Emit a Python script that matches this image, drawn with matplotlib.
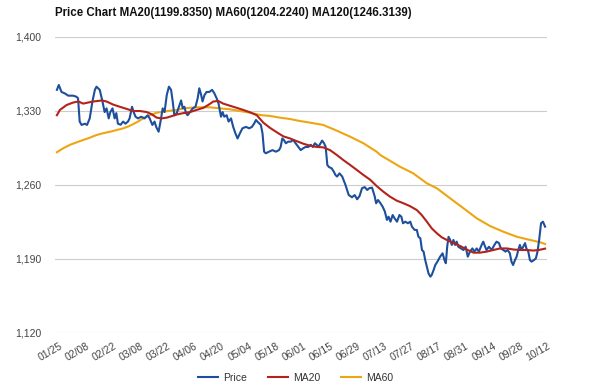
import matplotlib
matplotlib.use("Agg")
import matplotlib.pyplot as plt
import matplotlib.transforms as mtransforms

# trading-day index (0 = 01/25) and closing price
price_day = [0, 0.7, 1.7, 2.9, 4.2, 6.0, 7.2, 7.8, 8.4, 9.1, 10.3, 11.1, 12.1, 13.1,
             14.0, 14.6, 15.8, 16.8, 17.6, 18.3, 19.1, 19.7, 20.5, 21.3, 21.9, 22.5,
             23.5, 24.4, 25.3, 26.2, 26.8, 27.7, 28.3, 29.0, 29.9, 31.1, 32.3, 33.5,
             34.2, 35.2, 36.0, 36.6, 37.5, 38.2, 39.0, 39.7, 40.5, 41.3, 42.1, 42.7,
             43.3, 44.2, 45.2, 45.8, 46.4, 47.0, 47.6, 48.2, 49.1, 50.1, 51.1, 51.9,
             52.5, 53.2, 53.7, 54.4, 55.2, 56.2, 57.2, 58.0, 58.9, 59.6, 60.5, 61.1,
             61.7, 62.6, 63.3, 64.2, 65.0, 65.8, 66.6, 67.5, 68.4, 69.7, 70.9, 71.9,
             72.7, 73.4, 73.9, 75.2, 75.8, 76.4, 77.0, 78.2, 79.5, 80.7, 81.9, 82.5,
             83.1, 83.7, 84.4, 85.3, 86.2, 87.1, 88.0, 89.0, 89.9, 90.8, 91.7, 92.7,
             93.6, 94.4, 95.1, 95.8, 96.4, 97.2, 97.8, 98.5, 99.1, 99.7, 100.3, 101.3,
             102.1, 102.7, 103.3, 104.2, 105.2, 106.4, 107.6, 108.8, 109.8, 110.7,
             111.6, 112.5, 113.5, 114.4, 115.2, 116.2, 117.2, 117.7, 118.4, 119.3,
             120.1, 120.9, 121.7, 122.3, 123.0, 123.8, 124.5, 125.4, 126.3, 127.0,
             127.6, 128.5, 129.4, 130.3, 130.9, 131.9, 132.7, 133.3, 134.0, 134.6,
             135.2, 135.8, 136.4, 137.0, 137.7, 138.2, 138.9, 139.5, 140.3, 141.3,
             142.2, 142.9, 143.4, 143.9, 144.4, 145.0, 145.6, 146.2, 146.8, 147.4,
             148.0, 149.0, 149.9, 150.7, 151.5, 152.3, 153.2, 153.9, 154.8, 155.6,
             156.6, 157.2, 157.9, 158.4, 159.3, 160.3, 161.3, 162.1, 163.0, 163.7,
             164.6, 165.4, 166.2, 167.0, 167.6, 168.2, 168.9, 169.5, 170.1, 170.7,
             171.3, 171.9, 172.6, 173.1, 173.8, 174.4, 175.0, 175.9, 176.6, 177.2,
             177.8, 178.5, 179.2, 180]
price = [1350, 1354.6, 1348, 1346.7, 1344.5, 1344.5, 1343.5, 1342, 1320, 1316.8, 1318,
         1316.8, 1323, 1339, 1350, 1353, 1350, 1339, 1329, 1332.5, 1323, 1329, 1332.5,
         1323, 1328, 1318, 1317, 1320, 1318, 1320, 1323, 1334, 1329, 1324.6, 1323,
         1324.6, 1323, 1326, 1323, 1316.8, 1320, 1315, 1310.4, 1320, 1332.5, 1329,
         1345, 1353, 1350, 1339, 1326, 1328, 1335.7, 1340, 1332.5, 1334, 1328, 1326,
         1329, 1332.5, 1334, 1342, 1351.5, 1345, 1339, 1345, 1348, 1348, 1350, 1347,
         1342, 1337, 1324.6, 1329, 1324.6, 1326, 1320, 1323, 1315, 1309, 1304, 1309,
         1313.6, 1315, 1313.6, 1315, 1318, 1321.5, 1320, 1316.8, 1309, 1291.5, 1290,
         1291.5, 1293, 1291.5, 1293, 1296, 1304, 1302.6, 1299.5, 1301, 1301, 1302.6,
         1299.5, 1296, 1293, 1294.7, 1296, 1296, 1298, 1296, 1299.5, 1298, 1296,
         1299.5, 1302, 1299.5, 1296, 1279, 1277, 1275.8, 1272.6, 1269.5, 1268, 1271,
         1268, 1260, 1250.5, 1248.4, 1250.5, 1246.5, 1249.6, 1257, 1258, 1255.3, 1257,
         1257.5, 1249, 1242.7, 1245.8, 1242.7, 1239.5, 1235, 1227, 1230, 1225.3,
         1231.6, 1228.5, 1225.3, 1231.6, 1230, 1223.8, 1225.3, 1223.8, 1225.3, 1220.6,
         1217.5, 1217.5, 1211, 1209.6, 1198.5, 1197, 1189, 1182.8, 1176.5, 1173.3,
         1174.9, 1179.6, 1184.3, 1187.5, 1192.2, 1195.4, 1189, 1186, 1201.6, 1211,
         1208, 1203.3, 1208, 1203.3, 1206.4, 1201.6, 1200, 1198.5, 1201.6, 1192.2,
         1197, 1200, 1197, 1200, 1197, 1203.3, 1206.4, 1201.6, 1198.5, 1201.6, 1198.5,
         1203.3, 1206.4, 1205, 1200, 1198.5, 1197, 1198.5, 1195.4, 1187.5, 1184.3,
         1189, 1192.2, 1198.5, 1203.3, 1198.5, 1201.6, 1205, 1200, 1197, 1189, 1187.5,
         1189, 1190.6, 1197, 1208, 1223.8, 1225.3, 1220.6]

ma20_day = [0, 1.1, 3.6, 6.0, 7.9, 9.7, 11.5, 13.4, 15.2, 16.5, 18.3, 20.8, 23.2, 25.7,
            28.1, 30.6, 33.1, 34.9, 36.8, 38.6, 40.5, 42.9, 44.7, 46.6, 49.1, 51.5,
            54.0, 55.8, 57.7, 59.5, 61.3, 63.8, 66.3, 68.7, 71.2, 73.7, 76.1, 78.6,
            81.0, 83.5, 86.0, 88.4, 90.9, 93.3, 95.8, 98.2, 100.7, 103.2, 105.6, 108.1,
            110.6, 113.0, 115.5, 117.9, 120.4, 122.8, 125.3, 127.8, 130.2, 132.7, 134.5,
            136.4, 138.2, 140.1, 141.9, 143.8, 146.2, 148.7, 151.1, 153.6, 156.0, 158.5,
            160.9, 163.4, 165.9, 168.3, 170.8, 173.3, 175.7, 177.6, 180]
ma20 = [1326, 1331, 1335.7, 1338, 1339, 1337, 1338, 1339, 1339.5, 1340, 1339, 1336,
        1334, 1332, 1330, 1330, 1329, 1327, 1323.7, 1323, 1323.7, 1325.6, 1327, 1328,
        1329, 1331, 1333, 1335.7, 1339, 1339.5, 1337, 1335, 1333, 1331, 1328.8, 1326,
        1319, 1314, 1310, 1306, 1304, 1301.5, 1299, 1297.2, 1296, 1295.6, 1293, 1288.4,
        1283.6, 1279, 1274.2, 1269.5, 1265, 1259, 1253.6, 1249, 1245.2, 1242.7, 1240,
        1236.3, 1231.6, 1225.3, 1219, 1214.3, 1210.5, 1208, 1205, 1202.3, 1199, 1196,
        1196, 1197, 1198.5, 1200, 1200, 1199, 1198.5, 1198.5, 1198, 1198.5, 1199.8]

ma60_day = [0, 2.3, 4.8, 7.3, 9.7, 12.2, 14.6, 17.1, 19.6, 22.0, 24.5, 26.9, 29.4, 31.8,
            34.3, 36.8, 39.2, 41.7, 44.2, 46.6, 51.5, 56.4, 60.1, 63.8, 67.5, 71.2,
            74.9, 78.6, 82.3, 86.0, 89.0, 93.3, 98.2, 103.2, 108.1, 113.0, 117.9, 119.2,
            126.5, 131.4, 136.4, 140.1, 145.0, 149.9, 154.8, 159.7, 164.6, 169.6, 174.5,
            178.2, 180]
ma60 = [1291, 1294.7, 1298, 1300.4, 1302.6, 1304.8, 1307.3, 1309, 1310.4, 1312, 1313.6,
        1316, 1319.3, 1323, 1326, 1328.4, 1329.3, 1330.3, 1331, 1332.5, 1333.5, 1333.5,
        1332.5, 1331.6, 1330, 1328.4, 1326.2, 1325.3, 1323.7, 1322.4, 1320.8, 1319,
        1316.8, 1311.4, 1305.7, 1299.5, 1291.5, 1288.4, 1277.3, 1271, 1261.6, 1256.9,
        1247.4, 1238, 1228.5, 1221.2, 1215.8, 1211, 1208, 1205.8, 1204.2]

tick_days = list(range(0, 181, 10))
tick_labels = ["01/25", "02/08", "02/22", "03/08", "03/22", "04/06", "04/20", "05/04",
               "05/18", "06/01", "06/15", "06/29", "07/13", "07/27", "08/17", "08/31",
               "09/14", "09/28", "10/12"]
y_ticks = [1120, 1190, 1260, 1330, 1400]

plt.rcParams["font.family"] = ["Liberation Sans", "DejaVu Sans"]

fig = plt.figure(figsize=(6, 3.88), dpi=100)
ax = fig.add_axes([55 / 600, 1 - 333 / 388, 492 / 600, 296 / 388])

ax.plot(price_day, price, color="#1d4f9c", lw=1.5, label="Price", zorder=3)
ax.plot(ma20_day, ma20, color="#b3231b", lw=1.5, label="MA20", zorder=4)
ax.plot(ma60_day, ma60, color="#eda512", lw=1.5, label="MA60", zorder=2)

ax.set_xlim(-0.7, 180.7)
ax.set_ylim(1120, 1400)
ax.set_yticks(y_ticks)
ax.set_yticklabels([f"{v:,}" for v in y_ticks])
ax.yaxis.grid(True, color="#cccccc", lw=0.8)
ax.set_axisbelow(True)
for s in ax.spines.values():
    s.set_visible(False)
ax.tick_params(axis="y", length=0, pad=10, labelsize=7.5, labelcolor="#444444")

ax.set_xticks(tick_days)
ax.set_xticklabels(tick_labels, rotation=30, ha="right", rotation_mode="anchor")
ax.tick_params(axis="x", length=0, pad=6, labelsize=7.5, labelcolor="#444444")
offset = mtransforms.ScaledTranslation(2 / 100, 0, fig.dpi_scale_trans)
for lab in ax.get_xticklabels():
    lab.set_transform(lab.get_transform() + offset)

fig.text(55 / 600, 1 - 13 / 388, "Price Chart MA20(1199.8350) MA60(1204.2240) MA120(1246.3139)",
         fontsize=8.3, fontweight="bold", color="#111111", va="center", ha="left")

fig.legend(loc="center", bbox_to_anchor=(0.493, 1 - 378 / 388), ncol=3, frameon=False,
           fontsize=7.5, handlelength=1.9, columnspacing=2.0, handletextpad=0.5,
           labelcolor="#333333")

fig.savefig("out.png", dpi=100, facecolor="white")
